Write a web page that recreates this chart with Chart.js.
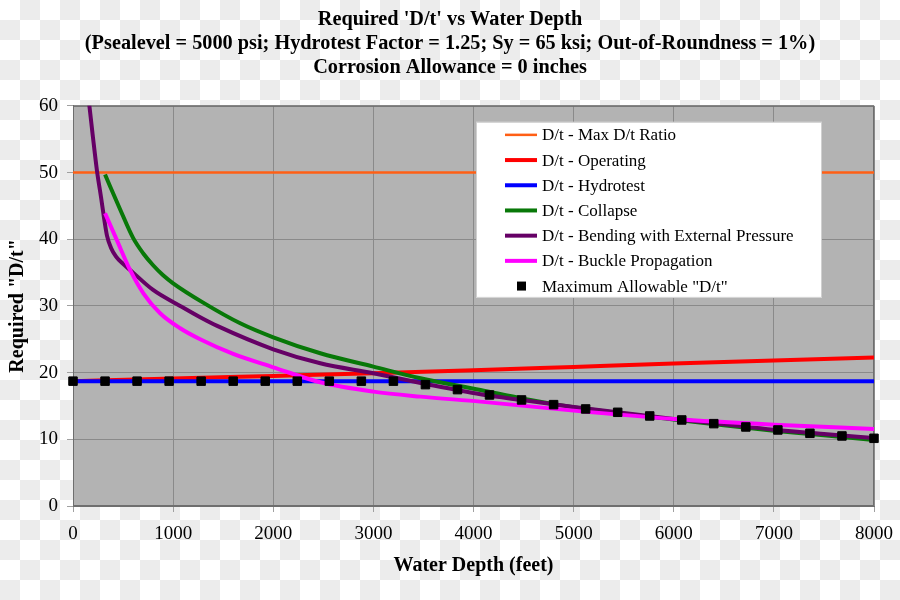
<!DOCTYPE html>
<html>
<head>
<meta charset="utf-8">
<script src="https://cdn.jsdelivr.net/npm/chart.js@4.4.0/dist/chart.umd.min.js"></script>
<style>
  html, body { margin: 0; padding: 0; }
  body {
    width: 900px;
    height: 600px;
    background: repeating-conic-gradient(#ececec 0 25%, #ffffff 0 50%) 0 0 / 40px 40px;
  }
  canvas { display: block; }
</style>
</head>
<body>
<canvas id="dt-chart" width="900" height="600"></canvas>
<script>
const xTicks = [0, 1000, 2000, 3000, 4000, 5000, 6000, 7000, 8000];
const yTicks = [0, 10, 20, 30, 40, 50, 60];

// D/t - Max D/t Ratio
const maxDepth = [0, 8000];
const maxDt = [50, 50];

// D/t - Operating
const operDepth = [0, 1000, 2000, 3000, 4000, 5000, 6000, 7000, 8000];
const operDt = [18.72, 19.1, 19.5, 19.9, 20.35, 20.85, 21.35, 21.8, 22.25];

// D/t - Hydrotest
const hydroDepth = [0, 8000];
const hydroDt = [18.72, 18.72];

// D/t - Collapse
const collapseDepth = [320, 470, 600, 700, 800, 900, 1000, 1300, 1670, 2000, 2470, 3000, 3470, 4070, 4500, 5000, 5500, 6000, 6500, 7000, 7500, 8000];
const collapseDt = [49.7, 44.5, 40.2, 37.9, 36.1, 34.6, 33.4, 30.5, 27.4, 25.3, 22.9, 20.9, 19.15, 17.4, 16.1, 14.8, 13.85, 12.95, 12.1, 11.3, 10.6, 9.9];

// D/t - Bending with External Pressure
const bendDepth = [130, 160, 200, 240, 280, 310, 340, 380, 430, 500, 570, 800, 1070, 1270, 1440, 2000, 2470, 3000, 3520, 4070, 4500, 5000, 5500, 6000, 6500, 7000, 7500, 8000];
const bendDt = [65, 60.5, 55.2, 50.2, 46.3, 43.2, 40.5, 38.7, 37.4, 36.3, 35.4, 32.4, 30.0, 28.3, 27.0, 23.5, 21.4, 19.9, 18.3, 16.75, 15.85, 14.85, 13.95, 13.05, 12.25, 11.45, 10.8, 10.2];

// D/t - Buckle Propagation
const buckleDepth = [320, 437, 570, 703, 870, 1070, 1270, 1600, 2000, 2470, 3000, 3470, 4070, 5000, 6000, 7000, 8000];
const buckleDt = [43.9, 39.9, 35.4, 31.9, 28.9, 26.65, 25.0, 22.8, 20.8, 18.55, 17.15, 16.4, 15.65, 14.3, 13.05, 12.2, 11.55];

// Maximum Allowable "D/t"
const allowDepth = [0, 320, 640, 960, 1280, 1600, 1920, 2240, 2560, 2880, 3200, 3520, 3840, 4160, 4480, 4800, 5120, 5440, 5760, 6080, 6400, 6720, 7040, 7360, 7680, 8000];
const allowDt = [18.72, 18.72, 18.72, 18.72, 18.72, 18.72, 18.72, 18.72, 18.72, 18.72, 18.72, 18.2, 17.45, 16.65, 15.9, 15.2, 14.55, 14.05, 13.5, 12.9, 12.35, 11.85, 11.4, 10.9, 10.5, 10.15];

const pairs = (xs, ys) => xs.map((x, i) => ({ x: x, y: ys[i] }));

function lineSet(label, xs, ys, color, width, order) {
  return {
    label: label,
    data: pairs(xs, ys),
    borderColor: color,
    backgroundColor: color,
    borderWidth: width,
    pointRadius: 0,
    fill: false,
    cubicInterpolationMode: 'monotone',
    order: order
  };
}

const serif = '"Liberation Serif", "Times New Roman", serif';

// plot background, frame and the boxed legend
const plotDecor = {
  id: 'plotDecor',
  beforeDraw(chart) {
    const { ctx, chartArea: a } = chart;
    ctx.save();
    ctx.fillStyle = '#b3b3b3';
    ctx.fillRect(a.left, a.top, a.right - a.left, a.bottom - a.top);
    ctx.restore();
  },
  beforeDatasetsDraw(chart) {
    const { ctx, chartArea: a } = chart;
    ctx.save();
    ctx.strokeStyle = '#6e6e6e';
    ctx.lineWidth = 1;
    ctx.strokeRect(a.left + 0.5, a.top + 0.5, a.right - a.left - 1, a.bottom - a.top - 1);
    ctx.restore();
  },
  afterDatasetsDraw(chart) {
    const { ctx, chartArea: a } = chart;
    const bx = a.left + 403, by = a.top + 16, bw = 346, bh = 176;
    ctx.save();
    ctx.fillStyle = '#ffffff';
    ctx.fillRect(bx, by, bw, bh);
    ctx.strokeStyle = '#d0d0d0';
    ctx.lineWidth = 1;
    ctx.strokeRect(bx + 0.5, by + 0.5, bw - 1, bh - 1);
    ctx.font = '17px ' + serif;
    ctx.textBaseline = 'middle';
    chart.data.datasets.forEach((ds, i) => {
      const y = by + 13 + i * 25.2;
      if (ds.showLine === false) {
        ctx.fillStyle = '#000';
        ctx.fillRect(bx + 41, y - 4.5, 9, 9);
      } else {
        ctx.strokeStyle = ds.borderColor;
        ctx.lineWidth = ds.borderWidth;
        ctx.beginPath();
        ctx.moveTo(bx + 29, y);
        ctx.lineTo(bx + 61, y);
        ctx.stroke();
      }
      ctx.fillStyle = '#000';
      ctx.fillText(ds.label, bx + 66, y + 1);
    });
    ctx.restore();
  }
};

const config = {
  type: 'line',
  data: {
    datasets: [
      lineSet('D/t - Max D/t Ratio', maxDepth, maxDt, '#ff5f15', 2.5, 6),
      lineSet('D/t - Operating', operDepth, operDt, '#ff0000', 4, 5),
      lineSet('D/t - Hydrotest', hydroDepth, hydroDt, '#0000ff', 4, 4),
      lineSet('D/t - Collapse', collapseDepth, collapseDt, '#087808', 4, 3),
      lineSet('D/t - Bending with External Pressure', bendDepth, bendDt, '#660066', 4, 2),
      lineSet('D/t - Buckle Propagation', buckleDepth, buckleDt, '#ff00ff', 4, 1),
      {
        label: 'Maximum Allowable "D/t"',
        data: pairs(allowDepth, allowDt),
        showLine: false,
        pointStyle: 'rect',
        pointRadius: 6,
        pointBorderWidth: 1,
        backgroundColor: '#000',
        borderColor: '#000',
        clip: false,
        order: 0
      }
    ]
  },
  options: {
    responsive: false,
    animation: false,
    devicePixelRatio: 1,
    layout: { padding: 0 },
    plugins: {
      legend: { display: false },
      tooltip: { enabled: false },
      title: {
        display: true,
        text: [
          "Required 'D/t' vs Water Depth",
          '(Psealevel = 5000 psi; Hydrotest Factor = 1.25; Sy = 65 ksi; Out-of-Roundness = 1%)',
          'Corrosion Allowance = 0 inches'
        ],
        color: '#000',
        font: { family: serif, size: 20.3, weight: 'bold', lineHeight: 1.18 },
        padding: { top: 8, bottom: 26 }
      }
    },
    scales: {
      x: {
        type: 'linear',
        min: 0,
        max: 8000,
        afterBuildTicks: (s) => { s.ticks = xTicks.map(v => ({ value: v })); },
        afterFit: (s) => { s.height = 94; s.paddingLeft = 0; s.paddingRight = 0; },
        ticks: {
          color: '#000',
          padding: 11,
          maxRotation: 0,
          font: { family: serif, size: 19 },
          callback: (v) => String(v)
        },
        grid: { color: '#8a8a8a', lineWidth: 1, tickLength: 6, tickColor: '#a0a0a0' },
        border: { display: true, color: '#6e6e6e' },
        title: {
          display: true,
          text: 'Water Depth (feet)',
          color: '#000',
          font: { family: serif, size: 20, weight: 'bold' },
          padding: { top: 0, bottom: 22 }
        }
      },
      y: {
        type: 'linear',
        min: 0,
        max: 60,
        afterBuildTicks: (s) => { s.ticks = yTicks.map(v => ({ value: v })); },
        afterFit: (s) => { s.width = 73; },
        ticks: {
          color: '#000',
          padding: 9,
          font: { family: serif, size: 19 },
          callback: (v) => String(v)
        },
        grid: { color: '#8a8a8a', lineWidth: 1, tickLength: 6, tickColor: '#a0a0a0' },
        border: { display: true, color: '#6e6e6e' },
        title: {
          display: true,
          text: 'Required "D/t"',
          color: '#000',
          font: { family: serif, size: 20, weight: 'bold' },
          padding: { top: 6, bottom: 0 }
        }
      },
      // empty right-hand margin so the titles centre on the full width
      yRight: {
        type: 'linear',
        position: 'right',
        display: true,
        afterFit: (s) => { s.width = 26; s.paddingTop = 0; s.paddingBottom = 0; },
        ticks: { display: false },
        grid: { display: false, drawTicks: false },
        border: { display: false }
      }
    }
  },
  plugins: [plotDecor]
};

const chart = new Chart(document.getElementById('dt-chart'), config);
</script>
</body>
</html>
